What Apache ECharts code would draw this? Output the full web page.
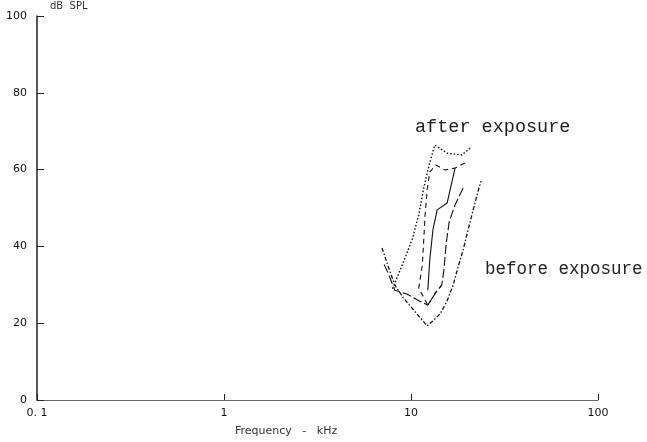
<!DOCTYPE html>
<html>
<head>
<meta charset="utf-8">
<script src="https://cdn.jsdelivr.net/npm/echarts@6/dist/echarts.min.js"></script>
<style>
  html, body { margin: 0; padding: 0; background: #fff; }
  #chart { width: 647px; height: 442px; }
</style>
</head>
<body>
<div id="chart"></div>
<script>
// Tuning curves: frequency (kHz) and threshold (dB SPL), in drawing order.
const afterOuterFreq  = [20.7, 18.7, 15.6, 13.4, 12.5, 11.7, 11.0, 10.2, 9.3, 8.5, 7.9];
const afterOuterLevel = [65.6, 63.8, 64.3, 66.4, 61.2, 55.2, 48.2, 42.2, 37.0, 32.3, 28.6];

const afterWideFreq  = [7.0, 7.5, 8.2, 9.1, 10.1, 11.2, 12.2, 13.1, 14.3, 15.6, 16.8, 17.8, 19.0, 20.2, 21.5, 22.8, 23.7];
const afterWideLevel = [39.6, 35.2, 29.9, 26.6, 24.0, 21.4, 19.3, 20.6, 22.4, 25.8, 29.9, 34.4, 39.1, 44.3, 49.5, 54.2, 57.0];

const afterInnerFreq  = [19.4, 17.2, 15.2, 13.6, 12.6, 12.2, 11.9, 11.7, 11.5, 11.0, 12.3, 13.6, 14.6];
const afterInnerLevel = [61.7, 60.4, 59.9, 61.2, 59.4, 54.7, 48.2, 41.7, 35.2, 29.2, 24.7, 28.1, 29.9];

const beforeAFreq  = [17.2, 15.6, 13.8, 13.1, 12.6, 12.3];
const beforeALevel = [60.4, 51.3, 49.5, 44.3, 36.5, 28.6];

const beforeBFreq  = [19.0, 17.2, 16.0, 15.4, 15.0, 14.6, 13.6, 12.3, 10.9, 9.5, 8.2, 7.5, 7.1];
const beforeBLevel = [55.2, 50.8, 46.4, 40.4, 33.9, 29.9, 28.1, 24.7, 26.0, 27.6, 28.6, 33.3, 35.9];

// Axis ticks
const freqTicks = [0.1, 1, 10, 100];
const levelTicks = [0, 20, 40, 60, 80, 100];

function pairs(f, l) { return f.map((v, i) => [v, l[i]]); }

const ink = '#111';
function curve(f, l, type, width, color) {
  return {
    type: 'line',
    data: pairs(f, l),
    showSymbol: false,
    symbol: 'none',
    smooth: false,
    lineStyle: { color: color || ink, width: width || 1.2, type: type }
  };
}

const chart = echarts.init(document.getElementById('chart'), null, { renderer: 'canvas' });
chart.setOption({
  animation: false,
  backgroundColor: '#fff',
  grid: { left: 37, right: 49, top: 16, bottom: 42 },
  xAxis: {
    type: 'log',
    logBase: 10,
    min: freqTicks[0],
    max: freqTicks[freqTicks.length - 1],
    axisLine: { lineStyle: { color: '#666', width: 1.2 } },
    axisTick: { inside: true, length: 6, lineStyle: { color: '#222' } },
    minorTick: { show: false },
    splitLine: { show: false },
    axisLabel: {
      margin: 8,
      fontFamily: 'DejaVu Sans',
      fontSize: 11,
      color: '#111',
      formatter: v => (Math.abs(v - 0.1) < 1e-9 ? '0. 1' : String(Math.round(v)))
    }
  },
  yAxis: {
    type: 'value',
    min: levelTicks[0],
    max: levelTicks[levelTicks.length - 1],
    interval: 20,
    axisLine: { show: true, lineStyle: { color: '#222', width: 1.5 } },
    axisTick: { show: true, inside: true, length: 7, lineStyle: { color: '#222' } },
    splitLine: { show: false },
    axisLabel: { margin: 10, fontFamily: 'DejaVu Sans', fontSize: 11, color: '#111' }
  },
  graphic: [
    { type: 'text', left: 50, top: 1,
      style: { text: 'dB  SPL', font: '10px "DejaVu Sans"', fill: '#333' } },
    { type: 'text', left: 235, top: 426,
      style: { text: 'Frequency   -   kHz', font: '11px "DejaVu Sans"', fill: '#333' } },
    { type: 'text', left: 415, top: 118,
      style: { text: 'after exposure', font: '18.5px "Liberation Mono"', fill: '#222' } },
    { type: 'text', left: 485, top: 260,
      style: { text: 'before exposure', font: '17.5px "Liberation Mono"', fill: '#222' } }
  ],
  series: [
    curve(afterOuterFreq, afterOuterLevel, [1.5, 2], 1.4),
    curve(afterWideFreq, afterWideLevel, [4, 2, 1.5, 2], 1.3),
    curve(afterInnerFreq, afterInnerLevel, [5, 4], 1.1),
    curve(beforeAFreq, beforeALevel, 'solid', 1.1),
    curve(beforeBFreq, beforeBLevel, [9, 3], 1.1)
  ]
});
</script>
</body>
</html>
